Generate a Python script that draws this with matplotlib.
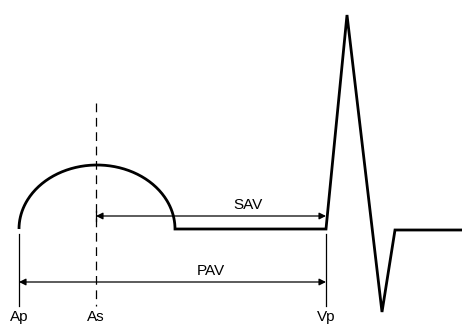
import numpy as np
import matplotlib
matplotlib.use("Agg")
import matplotlib.pyplot as plt

plt.rcParams['font.family'] = ['Liberation Sans', 'DejaVu Sans']

# Event markers (horizontal positions, diagram units)
event_labels = ["Ap", "As", "Vp"]
event_x = [19, 96, 326]

# P wave (half ellipse) parameters
p_start, p_end = 19, 175
p_height = 64
baseline = 229

# QRS complex vertices (after Vp)
qrs_x = [326, 347, 382, 395, 462]
qrs_y = [229, 15, 312, 230, 230]

# Interval arrows
sav_y, pav_y = 216, 282
interval_labels = ["SAV", "PAV"]

fig = plt.figure(figsize=(4.62, 3.25), dpi=100)
ax = fig.add_axes([0, 0, 1, 1])
ax.set_xlim(0, 462)
ax.set_ylim(325, 0)
ax.axis('off')

# P wave
cx = (p_start + p_end) / 2
a = (p_end - p_start) / 2
t = np.linspace(np.pi, 0, 200)
px = cx + a * np.cos(t)
py = baseline - p_height * np.sin(t)
wx = np.concatenate([px, [event_x[2]], qrs_x[1:]])
wy = np.concatenate([py, [baseline], qrs_y[1:]])
ax.plot(wx, wy, color='black', lw=2.0, solid_joinstyle='miter', solid_capstyle='butt')

# Vertical markers
ax.plot([event_x[0], event_x[0]], [234, 306], color='black', lw=0.9)
ax.plot([event_x[2], event_x[2]], [234, 306], color='black', lw=0.9)
ax.plot([event_x[1], event_x[1]], [103, 306], color='black', lw=0.9,
        dashes=(7, 4.5))

# Interval arrows
arrowprops = dict(arrowstyle='<|-|>', color='black', lw=0.9,
                  shrinkA=0, shrinkB=0, mutation_scale=10)
ax.annotate('', xy=(event_x[2], sav_y), xytext=(event_x[1], sav_y), arrowprops=arrowprops)
ax.annotate('', xy=(event_x[2], pav_y), xytext=(event_x[0], pav_y), arrowprops=arrowprops)
ax.plot([event_x[1], event_x[1]], [sav_y - 5, sav_y + 5], color='black', lw=0.9)

ax.text(248, 205, interval_labels[0], ha='center', va='center', fontsize=11)
ax.text(211, 271, interval_labels[1], ha='center', va='center', fontsize=11)

for lab, x in zip(event_labels, event_x):
    ax.text(x, 317, lab, ha='center', va='center', fontsize=11)

fig.savefig('out.png', dpi=100)
